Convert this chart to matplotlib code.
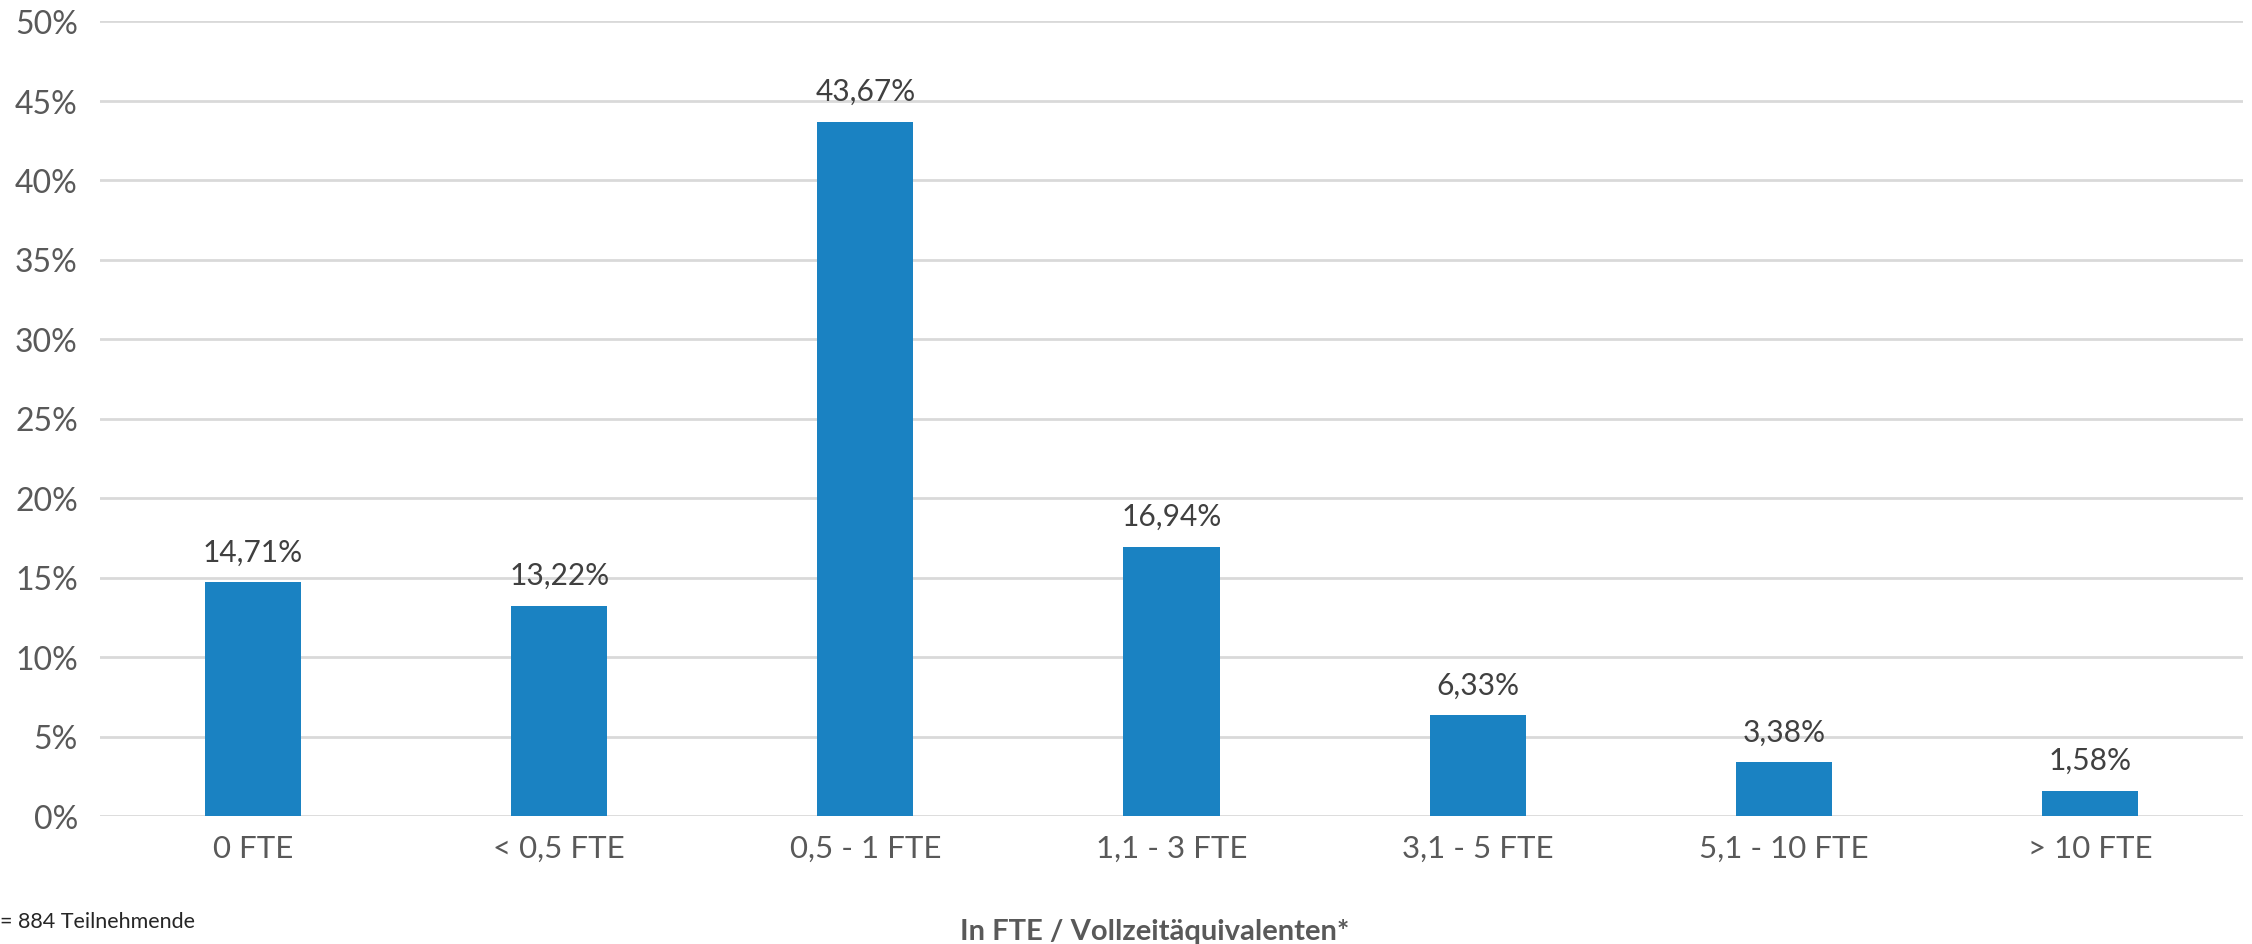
import matplotlib
matplotlib.use("Agg")
import matplotlib.pyplot as plt
from matplotlib.ticker import MultipleLocator, FuncFormatter

categories = ["0 FTE", "< 0,5 FTE", "0,5 - 1 FTE", "1,1 - 3 FTE", "3,1 - 5 FTE", "5,1 - 10 FTE", "> 10 FTE"]
shares = [14.71, 13.22, 43.67, 16.94, 6.33, 3.38, 1.58]
axis_title = "In FTE / Vollzeitäquivalenten*"
footnote = "= 884 Teilnehmende"

plt.rcParams["font.family"] = ["Lato", "DejaVu Sans"]

W, H, DPI = 2252, 945, 100
fig = plt.figure(figsize=(W / DPI, H / DPI), dpi=DPI)
left, right, top, bottom = 100 / W, 2243 / W, 22 / H, 817 / H
ax = fig.add_axes([left, 1 - bottom, right - left, bottom - top])

bar_color = "#1a82c2"
x = range(len(categories))
ax.bar(x, shares, width=0.314, color=bar_color, zorder=3)

for xi, v in zip(x, shares):
    ax.annotate(f"{v:.2f}%".replace(".", ","), (xi, v), xytext=(0, 12),
                textcoords="offset points", ha="center", va="bottom",
                fontsize=21.5, color="#404040")

ax.set_xlim(-0.5, len(categories) - 0.5)
ax.set_ylim(0, 50)
ax.yaxis.set_major_locator(MultipleLocator(5))
ax.yaxis.set_major_formatter(FuncFormatter(lambda v, _: f"{v:.0f}%"))
ax.grid(axis="y", color="#d9d9d9", linewidth=2, zorder=0)
ax.set_axisbelow(True)
for s in ax.spines.values():
    s.set_visible(False)
ax.tick_params(axis="both", length=0, labelcolor="#595959")
ax.tick_params(axis="y", pad=16, labelsize=23)
ax.tick_params(axis="x", pad=13, labelsize=22.5)
ax.set_xticks(list(x))
ax.set_xticklabels(categories)

fig.text(1155 / W, 1 - 932 / H, axis_title, ha="center", va="center",
         fontsize=21, fontweight="bold", color="#595959")
fig.text(0, 1 - 922 / H, footnote, ha="left", va="center", fontsize=15.5, color="#262626")

fig.savefig("out.png", dpi=DPI)
